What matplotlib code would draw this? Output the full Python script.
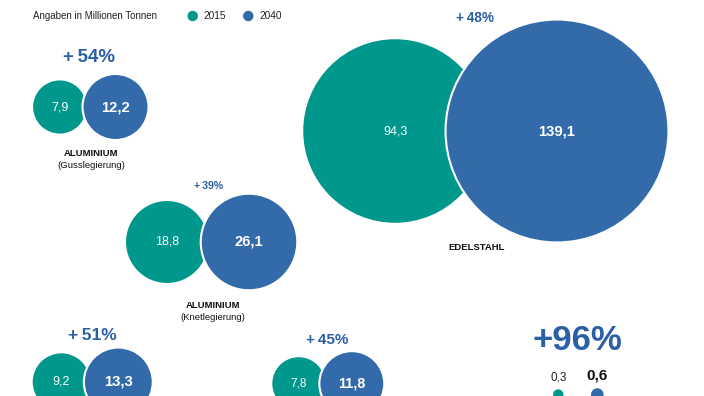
import numpy as np
import matplotlib.pyplot as plt
from matplotlib.patches import Circle

plt.rcParams['font.family'] = ['Liberation Sans', 'DejaVu Sans']

# data (Millionen Tonnen)
names = ['ALUMINIUM', 'EDELSTAHL', 'ALUMINIUM', '', '', '']
subnames = ['(Gusslegierung)', '', '(Knetlegierung)', '', '', '']
v2015 = [7.9, 94.3, 18.8, 9.2, 7.8, 0.3]
v2040 = [12.2, 139.1, 26.1, 13.3, 11.8, 0.6]
growth = ['+\u200954%', '+\u200948%', '+\u200939%', '+\u200951%', '+\u200945%', '+96%']

# layout in pixels (x of 2015 circle, x of 2040 circle, centre y)
x15 = [59.7, 395, 167, 61.4, 298.7, 558.3]
x40 = [115.5, 557, 249, 118.3, 351.8, 597.3]
cy = [107, 131, 242, 382, 383.6, 394.5]
pct_pos = [(89, 58), (475, 18), (209, 186), (92, 336), (327, 340), (577, 341)]
pct_size = [13.4, 9.8, 7.6, 12.5, 11, 25]
lab15_size = [9, 9, 9, 9, 8.5, 8.5]
lab40_size = [10.7, 10.7, 10.7, 10.7, 10.4, 11]
name_pos = [(91, 154), (477, 248), (213, 306), None, None, None]

teal = '#00978c'
blue = '#326aaa'
pct_col = '#2b5fa6'
k = 9.45  # radius = k * sqrt(value)

fig = plt.figure(figsize=(7.04, 3.96), dpi=100)
ax = fig.add_axes([0, 0, 1, 1])
ax.set_xlim(0, 704)
ax.set_ylim(396, 0)
ax.axis('off')

for i in range(len(v2015)):
    r1 = k * np.sqrt(v2015[i])
    r2 = k * np.sqrt(v2040[i])
    ax.add_patch(Circle((x15[i], cy[i]), r1, facecolor=teal, edgecolor='none', zorder=2))
    ax.add_patch(Circle((x40[i], cy[i]), r2, facecolor=blue, edgecolor='white', lw=1.5, zorder=3))
    lab1 = str(v2015[i]).replace('.', ',')
    lab2 = str(v2040[i]).replace('.', ',')
    if i == 5:
        ax.text(x15[i], 377, lab1, ha='center', va='center', fontsize=lab15_size[i], color='#222222')
        ax.text(x40[i], 376, lab2, ha='center', va='center', fontsize=lab40_size[i], color='#111111', fontweight='bold')
    else:
        ax.text(x15[i], cy[i], lab1, ha='center', va='center', fontsize=lab15_size[i], color='white', zorder=4)
        ax.text(x40[i], cy[i], lab2, ha='center', va='center', fontsize=lab40_size[i], color='white', fontweight='bold', zorder=4)
    px, py = pct_pos[i]
    ax.text(px, py, growth[i], ha='center', va='center', fontsize=pct_size[i], color=pct_col, fontweight='bold')
    if name_pos[i] is not None:
        nx, ny = name_pos[i]
        ax.text(nx, ny, names[i], ha='center', va='center', fontsize=6.8, fontweight='bold', color='#111111')
        if subnames[i]:
            ax.text(nx, ny + 11, subnames[i], ha='center', va='center', fontsize=6.8, color='#111111')

# header and legend
ax.text(33, 16, 'Angaben in Millionen Tonnen', ha='left', va='center', fontsize=7.05, color='#222222')
ax.add_patch(Circle((192.7, 16), 5.2, facecolor=teal, edgecolor='none'))
ax.text(203, 16, '2015', ha='left', va='center', fontsize=7.3, color='#222222')
ax.add_patch(Circle((248.3, 16), 5.2, facecolor=blue, edgecolor='none'))
ax.text(259, 16, '2040', ha='left', va='center', fontsize=7.3, color='#222222')

fig.savefig('out.png', dpi=100)
